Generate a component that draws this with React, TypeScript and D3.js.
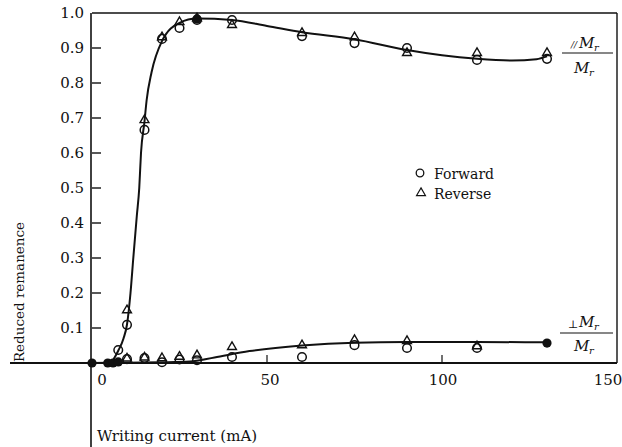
import React from "react";
import * as d3 from "d3";

// measured points (writing current in mA, reduced remanence)
const parFwdX = [7.5, 10, 15, 20, 25, 30, 40, 60, 75, 90, 110, 130];
const parFwdY = [0.037, 0.109, 0.666, 0.926, 0.957, 0.98, 0.98, 0.934, 0.914, 0.9, 0.866, 0.869];
const parRevX = [10, 15, 20, 25, 30, 40, 60, 75, 90, 110, 130];
const parRevY = [0.151, 0.694, 0.931, 0.974, 0.985, 0.966, 0.943, 0.931, 0.886, 0.886, 0.886];

const perpFwdX = [10, 15, 20, 25, 30, 40, 60, 75, 90, 110];
const perpFwdY = [0.011, 0.014, 0.002, 0.01, 0.008, 0.017, 0.017, 0.051, 0.043, 0.043];
const perpRevX = [10, 15, 20, 25, 30, 40, 60, 75, 90, 110];
const perpRevY = [0.013, 0.016, 0.014, 0.018, 0.022, 0.046, 0.051, 0.066, 0.063, 0.048];

// where both symbols coincide the mark prints as a solid dot
const bothX = [0, 4.5, 6, 7.5, 30, 130];
const bothY = [0, 0, 0, 0.003, 0.983, 0.057];

// hand-drawn fitted curves
const parCurveX = [5.5, 7.5, 9, 10, 11, 11.8, 12.8, 13.5, 14, 15, 15.6, 17, 20, 25, 30, 40, 50, 60, 75, 90, 100, 110, 120, 127, 130];
const parCurveY = [0, 0.035, 0.07, 0.11, 0.2, 0.3, 0.42, 0.5, 0.6, 0.69, 0.75, 0.83, 0.92, 0.972, 0.984, 0.98, 0.963, 0.945, 0.925, 0.894, 0.879, 0.869, 0.864, 0.868, 0.876];
const perpCurveX = [0, 10, 20, 28, 35, 45, 60, 75, 90, 110, 130];
const perpCurveY = [0, 0.001, 0.002, 0.004, 0.016, 0.034, 0.05, 0.058, 0.06, 0.06, 0.059];

const xTicks = [0, 50, 100, 150];
const yTicks = [0.1, 0.2, 0.3, 0.4, 0.5, 0.6, 0.7, 0.8, 0.9, 1.0];

const zip = (xs: number[], ys: number[]) => xs.map((x, i) => [x, ys[i]] as [number, number]);

export default function App() {
  const width = 622;
  const height = 447;
  const x = d3.scaleLinear().domain([0, 150]).range([92, 617]);
  const y = d3.scaleLinear().domain([0, 1]).range([363, 13]);

  const line = d3
    .line<[number, number]>()
    .x((d) => x(d[0]))
    .y((d) => y(d[1]))
    .curve(d3.curveMonotoneX);

  const tri = d3.symbol().type(d3.symbolTriangle).size(34)();
  const font = "'DejaVu Serif', serif";
  const ink = "#111";
  const ts = { fontFamily: font };

  const xLabelShift: Record<number, number> = { 0: 10, 50: 3, 100: 1, 150: -9 };

  return (
    <svg
      width={width}
      height={height}
      style={{ position: "absolute", left: 0, top: 0, background: "#fff", fontFamily: font }}
    >
      {/* frame */}
      <line x1={x(0)} x2={x(150)} y1={y(1)} y2={y(1)} stroke={ink} strokeWidth={1.4} />
      <line x1={x(150)} x2={x(150)} y1={y(1)} y2={y(0)} stroke={ink} strokeWidth={1.4} />
      {/* axes */}
      <line x1={10} x2={x(150)} y1={y(0)} y2={y(0)} stroke={ink} strokeWidth={1.8} />
      <line x1={x(0) - 1} x2={x(0) - 1} y1={y(1)} y2={height} stroke={ink} strokeWidth={1.6} />

      {yTicks.map((t) => (
        <g key={t}>
          {t < 1 && <line x1={x(0)} x2={x(0) + 9} y1={y(t)} y2={y(t)} stroke={ink} strokeWidth={1.4} />}
          <text x={84} y={y(t)} dy="0.35em" textAnchor="end" fontSize={15} fill={ink} style={ts}>
            {t.toFixed(1)}
          </text>
        </g>
      ))}
      {xTicks.map((t) => (
        <g key={t}>
          {t > 0 && t < 150 && (
            <line x1={x(t)} x2={x(t)} y1={y(0)} y2={y(0) - 8} stroke={ink} strokeWidth={1.2} />
          )}
          <text x={x(t) + xLabelShift[t]} y={385} textAnchor="middle" fontSize={15} fill={ink} style={ts}>
            {t}
          </text>
        </g>
      ))}

      <text
        transform={`translate(24,292) rotate(-90)`}
        textAnchor="middle"
        fontSize={13.5}
        fill={ink}
        style={ts}
      >
        Reduced remanence
      </text>
      <text x={97} y={441} fontSize={15} fill={ink} style={ts}>
        Writing current (mA)
      </text>

      {/* fitted curves */}
      <path d={line(zip(parCurveX, parCurveY)) ?? ""} fill="none" stroke={ink} strokeWidth={2} />
      <path d={line(zip(perpCurveX, perpCurveY)) ?? ""} fill="none" stroke={ink} strokeWidth={2} />

      {/* forward: circles */}
      {[...zip(parFwdX, parFwdY), ...zip(perpFwdX, perpFwdY)].map((d, i) => (
        <circle key={"f" + i} cx={x(d[0])} cy={y(d[1])} r={4.3} fill="none" stroke={ink} strokeWidth={1.5} />
      ))}
      {/* reverse: triangles */}
      {[...zip(parRevX, parRevY), ...zip(perpRevX, perpRevY)].map((d, i) => (
        <path
          key={"r" + i}
          d={tri ?? ""}
          transform={`translate(${x(d[0])},${y(d[1])})`}
          fill="none"
          stroke={ink}
          strokeWidth={1.4}
        />
      ))}
      {zip(bothX, bothY).map((d, i) => (
        <circle key={"b" + i} cx={x(d[0])} cy={y(d[1])} r={4.6} fill={ink} />
      ))}

      {/* legend */}
      <circle cx={420} cy={173} r={3.8} fill="none" stroke={ink} strokeWidth={1.3} />
      <text x={434} y={179} fontSize={14} fill={ink} style={ts}>Forward</text>
      <path d={tri ?? ""} transform="translate(421,193)" fill="none" stroke={ink} strokeWidth={1.2} />
      <text x={434} y={199} fontSize={14} fill={ink} style={ts}>Reverse</text>

      {/* ratio labels */}
      <g fill={ink} fontStyle="italic" style={ts}>
        <text x={571} y={48} fontSize={9} style={ts}>//</text>
        <text x={579} y={48} fontSize={15} style={ts}>M</text>
        <text x={594} y={51} fontSize={10} style={ts}>r</text>
        <line x1={562} x2={613} y1={53} y2={53} stroke={ink} strokeWidth={1.2} />
        <text x={574} y={73} fontSize={15} style={ts}>M</text>
        <text x={589} y={76} fontSize={10} style={ts}>r</text>

        <text x={568} y={328} fontSize={11} fontStyle="normal" style={ts}>⊥</text>
        <text x={579} y={327} fontSize={15} style={ts}>M</text>
        <text x={594} y={330} fontSize={10} style={ts}>r</text>
        <line x1={560} x2={613} y1={333} y2={333} stroke={ink} strokeWidth={1.2} />
        <text x={574} y={351} fontSize={15} style={ts}>M</text>
        <text x={589} y={354} fontSize={10} style={ts}>r</text>
      </g>
    </svg>
  );
}
